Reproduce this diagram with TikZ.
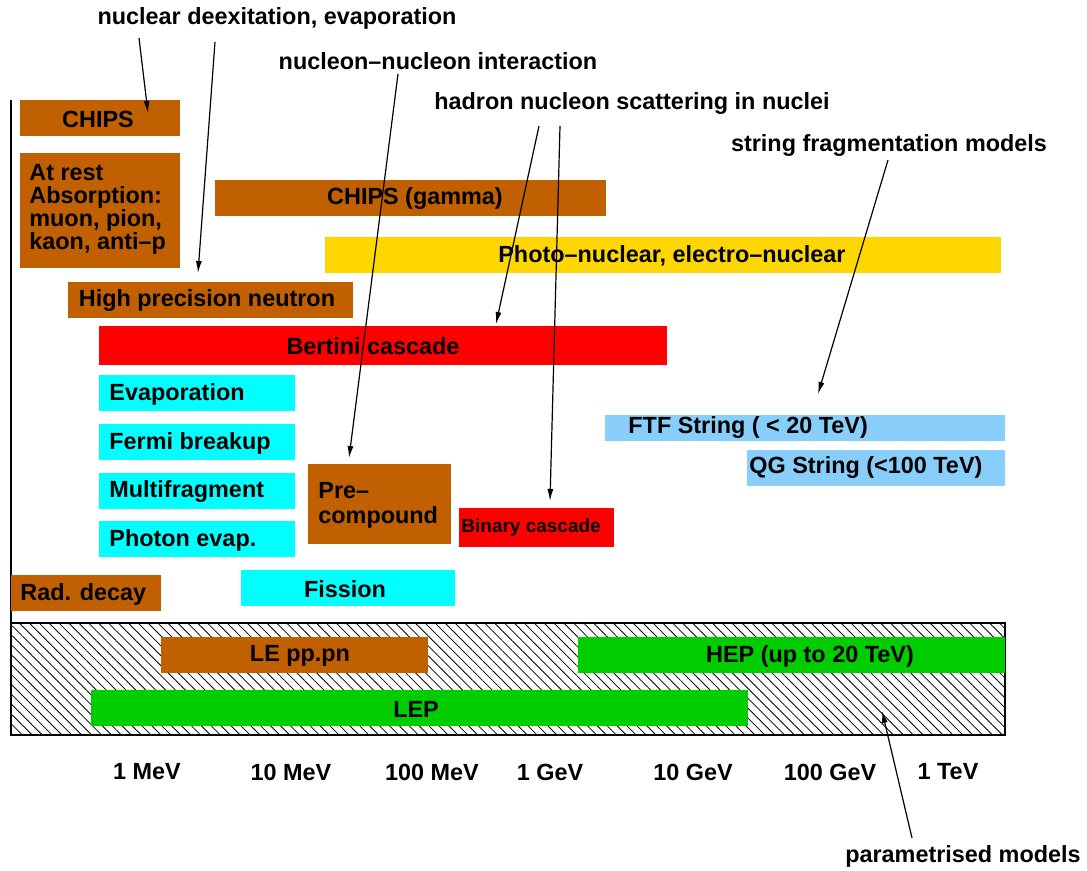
\documentclass[tikz,border=0pt]{standalone}
\usepackage{fontspec}
\setmainfont{Liberation Sans}
\usetikzlibrary{arrows.meta,patterns.meta}

\definecolor{chipsbrown}{RGB}{192,96,0}
\definecolor{photoyellow}{RGB}{255,215,0}
\definecolor{stringblue}{RGB}{135,206,250}
\definecolor{hepgreen}{RGB}{0,205,0}
\definecolor{evapcyan}{RGB}{0,255,255}

\begin{document}
\begin{tikzpicture}[x=0.5pt,y=-0.5pt,>={Latex[length=6pt,width=3pt]},
  lbl/.style={font=\bfseries\fontsize{11.7}{11.5}\selectfont,inner sep=0pt},
  arr/.style={->,line width=0.6pt}]

\useasboundingbox (0,0) rectangle (1087,871);

% parametrised region
\fill[pattern={Lines[angle=-45,distance=3.5pt,line width=0.4pt]}] (11,623) rectangle (1005,735);
\draw[line width=1pt] (11,623) rectangle (1005,735);
\draw[line width=0.8pt] (11,100) -- (11,735);

% model boxes
\fill[chipsbrown] (20,100) rectangle (180,136);
\fill[chipsbrown] (20,153) rectangle (180,268);
\fill[chipsbrown] (215,180) rectangle (606,216);
\fill[photoyellow] (325,237) rectangle (1001,273);
\fill[chipsbrown] (68,282) rectangle (353,318);
\fill[red] (99,326) rectangle (667,365);
\fill[evapcyan] (99,375) rectangle (295,411);
\fill[evapcyan] (99,424) rectangle (295,460);
\fill[evapcyan] (99,473) rectangle (295,509);
\fill[evapcyan] (99,521) rectangle (295,557);
\fill[chipsbrown] (308,464) rectangle (451,544);
\fill[red] (459,508) rectangle (614,547);
\fill[stringblue] (605,415) rectangle (1005,441);
\fill[stringblue] (747,450) rectangle (1005,486);
\fill[chipsbrown] (11,575) rectangle (161,611);
\fill[evapcyan] (241,570) rectangle (455,606);
\fill[chipsbrown] (161,637) rectangle (428,673);
\fill[hepgreen] (578,637) rectangle (1005,673);
\fill[hepgreen] (91,690) rectangle (748,726);

% box texts
\node[lbl] (chips) at (98,119) {CHIPS};
\node[lbl,anchor=west,align=left] (atrest) at (29,209) {At rest\\Absorption:\\muon, pion,\\kaon, anti--p};
\node[lbl] (chipsg) at (415,199) {CHIPS (gamma)};
\node[lbl] (photo) at (672,256) {Photo--nuclear, electro--nuclear};
\node[lbl] (hpneutron) at (207,301) {High precision neutron};
\node[lbl] (bertini) at (373,346) {Bertini cascade};
\node[lbl,anchor=west] (evap) at (109,394) {Evaporation};
\node[lbl,anchor=west] (fermi) at (109,443) {Fermi breakup};
\node[lbl,anchor=west] (multi) at (109,492) {Multifragment};
\node[lbl,anchor=west] (photonev) at (109,540) {Photon evap.};
\node[lbl,anchor=west,align=left,font=\bfseries\fontsize{11.7}{12.5}\selectfont] (precomp) at (318,505) {Pre--\\compound};
\node[lbl,anchor=west,font=\bfseries\fontsize{9.5}{10}\selectfont] (binary) at (461,528) {Binary cascade};
\node[lbl,anchor=west] (ftf) at (628,428) {FTF String ( < 20 TeV)};
\node[lbl,anchor=west] (qgs) at (749,468) {QG String (<100 TeV)};
\node[lbl,anchor=west] (raddecay) at (20,594) {Rad. decay};
\node[lbl] (fission) at (345,589) {Fission};
\node[lbl] (lepppn) at (300,656) {LE pp.pn};
\node[lbl] (hep) at (810,656) {HEP (up to 20 TeV)};
\node[lbl] (lep) at (416,709) {LEP};

% energy scale
\node[lbl] (e1) at (147,772) {1 MeV};
\node[lbl] (e2) at (291,772) {10 MeV};
\node[lbl] (e3) at (432,772) {100 MeV};
\node[lbl] (e4) at (550,772) {1 GeV};
\node[lbl] (e5) at (693,772) {10 GeV};
\node[lbl] (e6) at (830,772) {100 GeV};
\node[lbl] (e7) at (948,772) {1 TeV};

% physics labels
\node[lbl] (deex) at (277,18) {nuclear deexitation, evaporation};
\node[lbl] (nn) at (438,61) {nucleon--nucleon interaction};
\node[lbl] (hadron) at (632,104) {hadron nucleon scattering in nuclei};
\node[lbl] (string) at (889,146) {string fragmentation models};
\node[lbl] (param) at (963,856) {parametrised models};

% arrow ends
\coordinate (deexA) at (139,38);
\coordinate (deexB) at (215,42);
\coordinate (nnA) at (398,74);
\coordinate (hadA) at (539,126);
\coordinate (hadB) at (560,126);
\coordinate (strA) at (888,160);
\coordinate (parA) at (912,838);
\coordinate (tchips) at (148,113);
\coordinate (tneutron) at (198,273);
\coordinate (tprecomp) at (349,458);
\coordinate (tbertini) at (496,324);
\coordinate (tbinary) at (550,501);
\coordinate (tstring) at (818,394);
\coordinate (tparam) at (882,711);

\draw[arr] (deexA) -- (tchips);
\draw[arr] (deexB) -- (tneutron);
\draw[arr] (nnA) -- (tprecomp);
\draw[arr] (hadA) -- (tbertini);
\draw[arr] (hadB) -- (tbinary);
\draw[arr] (strA) -- (tstring);
\draw[arr] (parA) -- (tparam);

\end{tikzpicture}
\end{document}
